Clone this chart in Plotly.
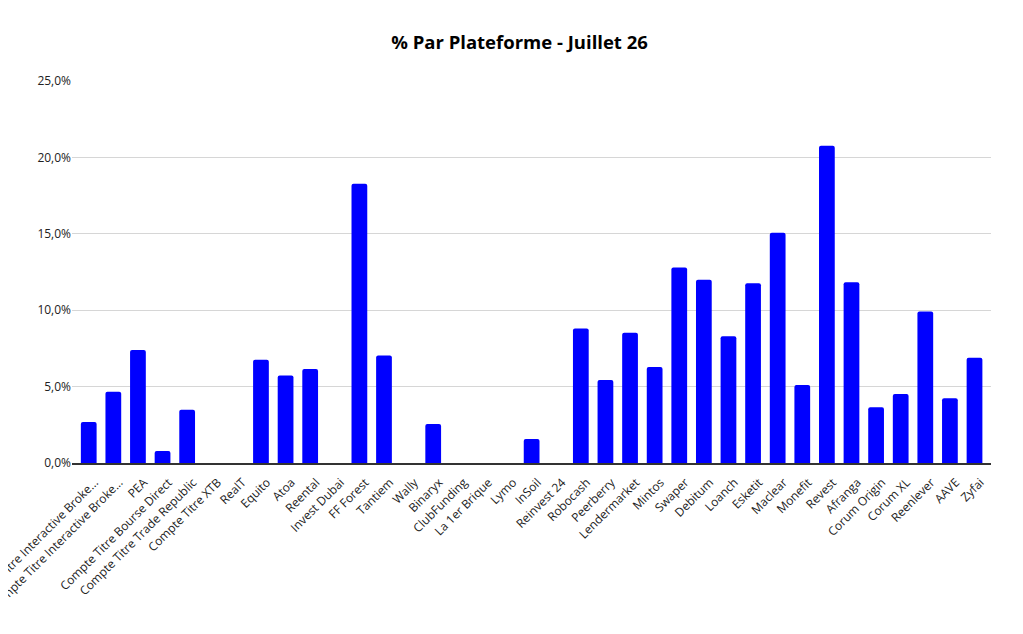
import plotly.graph_objects as go

# platforms (first two labels are truncated in the original chart)
platforms = [
    "Compte Titre Interactive Broke...", "Compte Titre Interactive Broke...", "PEA",
    "Compte Titre Bourse Direct", "Compte Titre Trade Republic", "Compte Titre XTB",
    "RealT", "Equito", "Atoa", "Reental", "Invest Dubai", "FF Forest", "Tantiem",
    "Wally", "Binaryx", "ClubFunding", "La 1er Brique", "Lymo", "InSoil",
    "Reinvest 24", "Robocash", "Peerberry", "Lendermarket", "Mintos", "Swaper",
    "Debitum", "Loanch", "Esketit", "Maclear", "Monefit", "Revest", "Afranga",
    "Corum Origin", "Corum XL", "Reenlever", "AAVE", "Zyfai",
]

# share in %
pct = [
    2.69, 4.67, 7.40, 0.79, 3.49, 0.0,
    0.0, 6.75, 5.72, 6.16, 0.0, 18.27, 7.03,
    0.0, 2.55, 0.0, 0.0, 0.0, 1.57,
    0.0, 8.80, 5.44, 8.52, 6.29, 12.79,
    11.99, 8.30, 11.77, 15.07, 5.11, 20.76, 11.83,
    3.65, 4.52, 9.91, 4.24, 6.88,
]

y_ticks = [0, 5, 10, 15, 20, 25]
y_labels = ["0,0%", "5,0%", "10,0%", "15,0%", "20,0%", "25,0%"]

pos = list(range(len(platforms)))

fig = go.Figure(go.Bar(
    x=pos,
    y=pct,
    width=0.64,
    marker=dict(color="#0000ff", cornerradius=2, line=dict(width=0)),
))

fig.update_layout(
    width=1023,
    height=634,
    margin=dict(l=64, r=40, t=73, b=179),
    paper_bgcolor="white",
    plot_bgcolor="white",
    showlegend=False,
    font=dict(family="Open Sans", size=12, color="#222222"),
    title=dict(
        text="<b>% Par Plateforme - Juillet 26</b>",
        x=0.5, xanchor="center",
        y=0.945, yanchor="middle",
        font=dict(family="Open Sans", size=18.5, color="#000000"),
    ),
    xaxis=dict(
        range=[-0.68, 36.67],
        tickmode="array",
        tickvals=pos,
        ticktext=platforms,
        tickangle=-45,
        ticklabelstandoff=6,
        ticklabelshift=6,
        automargin=False,
        ticklabeloverflow="allow",
        showgrid=False,
        showline=True,
        linecolor="#333333",
        linewidth=1.5,
        ticks="",
        tickfont=dict(size=12, color="#222222"),
    ),
    yaxis=dict(
        range=[0, 25],
        tickmode="array",
        tickvals=y_ticks,
        ticktext=y_labels,
        automargin=False,
        showgrid=True,
        gridcolor="#d6d6d6",
        gridwidth=1,
        zeroline=False,
        ticks="",
        tickfont=dict(size=12, color="#222222"),
    ),
)

fig.write_html("out.html")
